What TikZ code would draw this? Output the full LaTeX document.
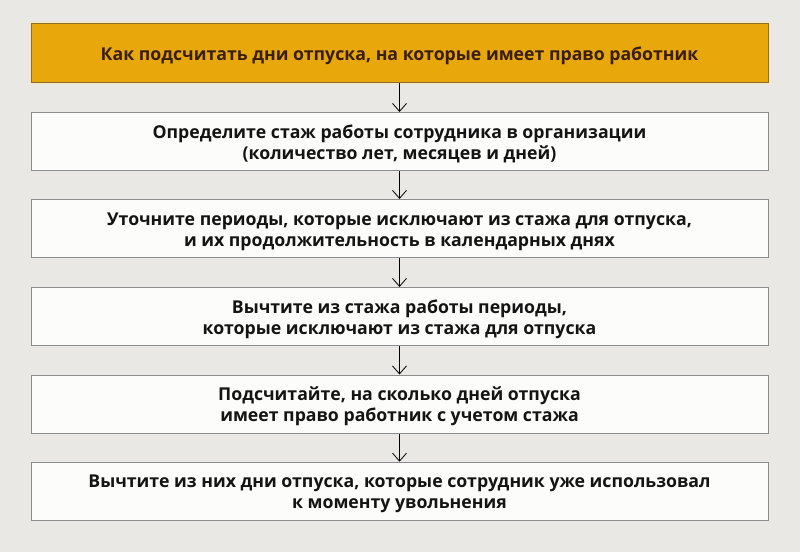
\documentclass[tikz,border=0pt]{standalone}
\usepackage{fontspec}
\setmainfont{Open Sans}
\usetikzlibrary{arrows.meta}
\definecolor{bg}{HTML}{E9E8E4}
\definecolor{gold}{HTML}{E8A80C}
\definecolor{goldline}{HTML}{8E6E2E}
\definecolor{cream}{HTML}{F6E9B8}
\definecolor{boxline}{HTML}{8C8C8C}
\definecolor{boxfill}{HTML}{FCFCFB}
\definecolor{titletext}{HTML}{3A1E0C}
\definecolor{bodytext}{HTML}{141414}
\newcommand{\toprule}{\rule{0pt}{20pt}}
\newcommand{\botrule}{\rule[-6pt]{0pt}{6pt}}
\tikzset{
  every node/.style={font=\fontsize{17.7}{21}\selectfont\bfseries, align=center},
  stepbox/.style={draw=boxline, line width=1pt, fill=boxfill, minimum width=737pt, minimum height=58pt, text=bodytext, inner sep=0pt},
  titlebox/.style={draw=goldline, line width=1pt, fill=gold, minimum width=737pt, minimum height=59pt, text=titletext, inner sep=0pt,
    preaction={draw=cream, line width=3pt}},
  link/.style={draw=black, line width=0.8pt, -{Straight Barb[length=8pt,width=14pt,line width=0.8pt]}}
}
\begin{document}
\begin{tikzpicture}[x=1pt,y=1pt]
\fill[bg] (0,0) rectangle (800,-552);
\useasboundingbox (0,0) rectangle (800,-552);
\node[titlebox] (t) at (399.5,-52.5) {\rule{0pt}{22pt}Как подсчитать дни отпуска, на которые имеет право работник\botrule};
\node[stepbox] (s1) at (399.5,-141.5) {\toprule Определите стаж работы сотрудника в организации\\(количество лет, месяцев и дней)\botrule};
\node[stepbox] (s2) at (399.5,-228.5) {\toprule Уточните периоды, которые исключают из стажа для отпуска,\\и их продолжительность в календарных днях\botrule};
\node[stepbox] (s3) at (399.5,-316.5) {\toprule Вычтите из стажа работы периоды,\\которые исключают из стажа для отпуска\botrule};
\node[stepbox] (s4) at (399.5,-404) {\toprule Подсчитайте, на сколько дней отпуска\\имеет право работник с учетом стажа\botrule};
\node[stepbox] (s5) at (399.5,-491.2) {\toprule Вычтите из них дни отпуска, которые сотрудник уже использовал\\к моменту увольнения\botrule};
\draw[link] (t) -- (s1);
\draw[link] (s1) -- (s2);
\draw[link] (s2) -- (s3);
\draw[link] (s3) -- (s4);
\draw[link] (s4) -- (s5);
\end{tikzpicture}
\end{document}
